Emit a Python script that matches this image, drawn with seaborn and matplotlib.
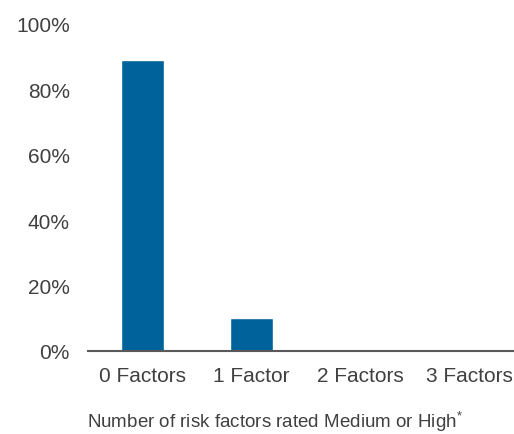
import matplotlib
matplotlib.use("Agg")
import matplotlib.pyplot as plt
import seaborn as sns
import pandas as pd
from matplotlib.ticker import FuncFormatter

categories = ["0 Factors", "1 Factor", "2 Factors", "3 Factors"]
values = [89, 10, 0, 0]
y_ticks = [0, 20, 40, 60, 80, 100]

sns.set_theme(style="white")
plt.rcParams['font.family'] = ['Liberation Sans', 'DejaVu Sans']
plt.rcParams['mathtext.fontset'] = 'custom'
plt.rcParams['mathtext.rm'] = 'Liberation Sans'
plt.rcParams['mathtext.it'] = 'Liberation Sans'

df = pd.DataFrame({"cat": categories, "val": values})

fig = plt.figure(figsize=(5.14, 4.35), dpi=100)
ax = fig.add_axes([88/514, 1-352/435, (514-88)/514, (352-25)/435])
sns.barplot(data=df, x="cat", y="val", ax=ax, color="#00629B", width=0.4,
            saturation=1)
ax.set_xlim(-0.5, 3.41)
ax.set_ylim(0, 100)
ax.set_yticks(y_ticks)
ax.yaxis.set_major_formatter(FuncFormatter(lambda v, p: f"{v:.0f}%"))
text_color = "#404040"
ax.tick_params(axis='y', length=0, pad=13, labelsize=15, labelcolor=text_color)
ax.tick_params(axis='x', length=0, pad=11, labelsize=15, labelcolor=text_color)
for s in ["top", "right", "left"]:
    ax.spines[s].set_visible(False)
ax.spines["bottom"].set_color("#595959")
ax.spines["bottom"].set_linewidth(1.5)
ax.set_ylabel("")
ax.set_xlabel("")
fig.text(275/514, 1-428/435, "Number of risk factors rated Medium or High$^{*}$",
         fontsize=13.5, color=text_color, ha='center', va='baseline')
ax.grid(False)
fig.savefig("out.png", dpi=100)
